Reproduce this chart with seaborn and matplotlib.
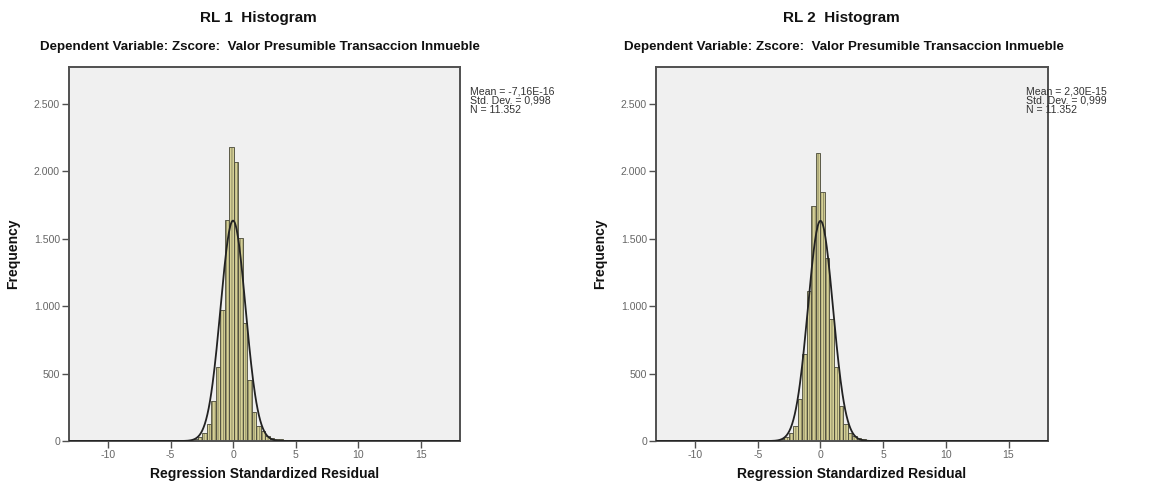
import numpy as np
import pandas as pd
import matplotlib
matplotlib.use("Agg")
import matplotlib.pyplot as plt
import matplotlib.colors as mcolors
import seaborn as sns

# ---------------- data ----------------
BIN_WIDTH = 0.36
N_TOTAL = 11352

titles = ["RL 1  Histogram", "RL 2  Histogram"]
subtitle = "Dependent Variable: Zscore:  Valor Presumible Transaccion Inmueble"
stats_text = [["Mean = -7,16E-16", "Std. Dev. = 0,998", "N = 11.352"],
              ["Mean = 2,30E-15", "Std. Dev. = 0,999", "N = 11.352"]]
means = [-7.16e-16, 2.30e-15]
std_devs = [0.998, 0.999]

# RL 1: left edge of each bin and its count
rl1_bin_left = [-6.06, -5.34, -4.62, -4.26, -3.90, -3.54, -3.18, -2.82, -2.46, -2.10,
                -1.74, -1.38, -1.02, -0.66, -0.30, 0.06, 0.42, 0.78, 1.14, 1.50,
                1.86, 2.22, 2.58, 2.94, 3.30, 3.66, 4.02, 4.38, 4.74, 5.10,
                5.46, 5.82, 6.18, 6.54, 6.90, 7.26, 9.06, 10.86, 12.66, 14.82]
rl1_counts = [1, 1, 2, 2, 4, 8, 14, 26, 62, 129,
              297, 552, 972, 1638, 2177, 2071, 1502, 876, 450, 215,
              111, 74, 38, 25, 18, 12, 9, 7, 6, 5,
              6, 4, 3, 2, 2, 1, 1, 1, 1, 1]

# RL 2
rl2_bin_left = [-5.76, -4.68, -4.32, -3.96, -3.60, -3.24, -2.88, -2.52, -2.16, -1.80,
                -1.44, -1.08, -0.72, -0.36, 0.00, 0.36, 0.72, 1.08, 1.44, 1.80,
                2.16, 2.52, 2.88, 3.24, 3.60, 3.96, 4.32, 4.68, 5.04, 5.40,
                5.76, 6.12, 6.48, 7.20, 9.00, 11.16, 13.32]
rl2_counts = [1, 1, 2, 3, 5, 12, 30, 62, 111, 314,
              643, 1109, 1745, 2133, 1849, 1356, 903, 549, 260, 124,
              62, 38, 20, 14, 9, 6, 5, 4, 4, 5,
              3, 2, 1, 1, 1, 1, 1]

x_ticks = [-10, -5, 0, 5, 10, 15]
y_ticks = [0, 500, 1000, 1500, 2000, 2500]
y_tick_labels = ["0", "500", "1.000", "1.500", "2.000", "2.500"]
x_label = "Regression Standardized Residual"
y_label = "Frequency"

# ---------------- style ----------------
sns.set_theme(style="white")
plt.rcParams["font.family"] = ["Liberation Sans", "DejaVu Sans"]
plt.rcParams["hatch.linewidth"] = 0.7

BAR_COLOR = "#d6d197"
EDGE_COLOR = "#4a4a3a"
HATCH_COLOR = "#8e8a62"
FRAME_COLOR = "#505050"
BG_COLOR = "#f0f0f0"
TICK_COLOR = "#666666"

fig = plt.figure(figsize=(11.56, 4.84), dpi=100)
axes_rects = [[69 / 1156, 43 / 484, 391 / 1156, 374 / 484],
              [656 / 1156, 43 / 484, 392 / 1156, 374 / 484]]
title_cx = [258 / 1156, 841 / 1156]
subtitle_cx = [260 / 1156, 844 / 1156]
stats_x = [470 / 1156, 1026 / 1156]

data_sets = [(rl1_bin_left, rl1_counts), (rl2_bin_left, rl2_counts)]

for i, (lefts, counts) in enumerate(data_sets):
    ax = fig.add_axes(axes_rects[i])
    ax.set_facecolor(BG_COLOR)
    lefts_arr = np.asarray(lefts)
    df = pd.DataFrame({"x": lefts_arr + BIN_WIDTH / 2, "w": counts})
    lo = lefts_arr.min()
    nb = int(round((lefts_arr.max() - lo) / BIN_WIDTH)) + 1
    sns.histplot(data=df, x="x", weights="w", binwidth=BIN_WIDTH,
                 binrange=(lo, lo + nb * BIN_WIDTH), ax=ax,
                 color=BAR_COLOR, edgecolor=EDGE_COLOR, linewidth=0.6,
                 alpha=1.0, zorder=2)
    hc = mcolors.to_rgba(HATCH_COLOR)
    for p in ax.patches:
        p.set_hatch("||||||")
        p._hatch_color = hc

    # fitted normal curve (SPSS overlays N * binwidth * normal pdf)
    xs = np.linspace(-13.12, 18.15, 600)
    sd = std_devs[i]
    ys = N_TOTAL * BIN_WIDTH / (sd * np.sqrt(2 * np.pi)) * np.exp(-0.5 * ((xs - means[i]) / sd) ** 2)
    sns.lineplot(x=xs, y=ys, ax=ax, color="#222222", linewidth=1.3, zorder=3)

    ax.set_xlim(-13.12, 18.15)
    ax.set_ylim(0, 2772)
    ax.set_xticks(x_ticks)
    ax.set_xticklabels([str(t) for t in x_ticks])
    ax.set_yticks(y_ticks)
    ax.set_yticklabels(y_tick_labels)
    ax.tick_params(axis="both", which="major", direction="out", length=5, width=1.0,
                   color=FRAME_COLOR, labelcolor=TICK_COLOR, labelsize=7.6, pad=1.5,
                   bottom=True, left=True)
    for s in ax.spines.values():
        s.set_color(FRAME_COLOR)
        s.set_linewidth(1.4)
    ax.set_xlabel(x_label, fontsize=10, fontweight="bold", color="#111111", labelpad=5)
    ax.set_ylabel(y_label, fontsize=10, fontweight="bold", color="#111111", labelpad=10)
    ax.grid(False)

    fig.text(title_cx[i], 1 - 18 / 484, titles[i], ha="center", va="center",
             fontsize=11, fontweight="bold", color="#111111")
    fig.text(subtitle_cx[i], 1 - 47 / 484, subtitle, ha="center", va="center",
             fontsize=9.6, fontweight="bold", color="#111111")
    fig.text(stats_x[i], 1 - 86 / 484, "\n".join(stats_text[i]), ha="left", va="top",
             fontsize=7.6, color="#333333", linespacing=0.92)

fig.savefig("out.png", dpi=100, facecolor="white")
